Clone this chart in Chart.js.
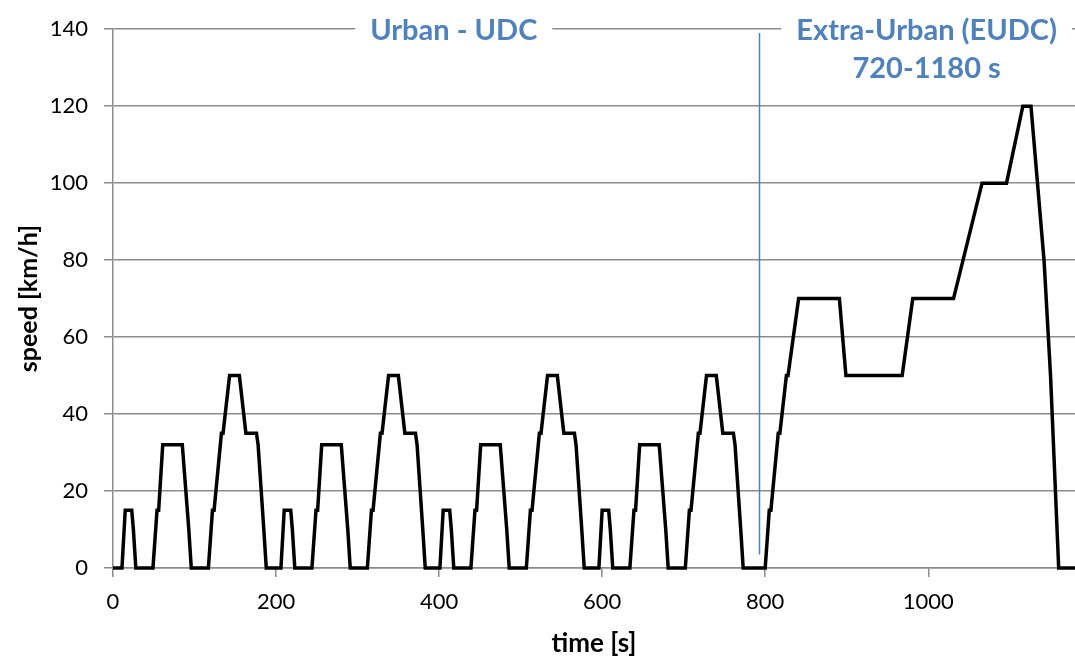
<!DOCTYPE html>
<html>
<head>
<meta charset="utf-8">
<script src="https://cdn.jsdelivr.net/npm/chart.js@4/dist/chart.umd.min.js"></script>
<style>
  html, body { margin: 0; padding: 0; background: #fff; }
  #wrap { width: 1075px; height: 657px; }
</style>
</head>
<body>
<div id="wrap"><canvas id="nedc-chart"></canvas></div>
<script>
// NEDC speed trace: 4x ECE-15 urban cycles + EUDC
var timeSec = [
  0, 11, 15, 23, 25, 28, 49, 54, 56, 61, 85, 93, 96, 117, 122, 124, 133, 135, 143, 155, 163, 176, 178, 185, 188,
  195, 206, 210, 218, 220, 223, 244, 249, 251, 256, 280, 288, 291, 312, 317, 319, 328, 330, 338, 350, 358, 371, 373, 380, 383,
  390, 401, 405, 413, 415, 418, 439, 444, 446, 451, 475, 483, 486, 507, 512, 514, 523, 525, 533, 545, 553, 566, 568, 575, 578,
  585, 596, 600, 608, 610, 613, 634, 639, 641, 646, 670, 678, 681, 702, 707, 709, 718, 720, 728, 740, 748, 761, 763, 770, 773,
  780, 800, 805, 807, 816, 818, 826, 828, 841, 891, 899, 968, 981, 1031, 1066, 1096, 1116, 1126, 1142, 1150, 1160, 1180
];
var speedKmh = [
  0, 0, 15, 15, 10, 0, 0, 15, 15, 32, 32, 10, 0, 0, 15, 15, 35, 35, 50, 50, 35, 35, 32, 10, 0,
  0, 0, 15, 15, 10, 0, 0, 15, 15, 32, 32, 10, 0, 0, 15, 15, 35, 35, 50, 50, 35, 35, 32, 10, 0,
  0, 0, 15, 15, 10, 0, 0, 15, 15, 32, 32, 10, 0, 0, 15, 15, 35, 35, 50, 50, 35, 35, 32, 10, 0,
  0, 0, 15, 15, 10, 0, 0, 15, 15, 32, 32, 10, 0, 0, 15, 15, 35, 35, 50, 50, 35, 35, 32, 10, 0,
  0, 0, 15, 15, 35, 35, 50, 50, 70, 70, 50, 50, 70, 70, 100, 100, 120, 120, 80, 50, 0, 0
];
// divider between urban and extra-urban part
var dividerTime = [793, 793];
var dividerSpeed = [3.5, 139];

var yTicks = [0, 20, 40, 60, 80, 100, 120, 140];
var xTicks = [0, 200, 400, 600, 800, 1000];

var blue = "#4F81BD";
var gridGray = "#8c8c8c";
var fontFamily = "Lato, 'Open Sans', sans-serif";

var trace = timeSec.map(function (t, i) { return { x: t, y: speedKmh[i] }; });
var divider = dividerTime.map(function (t, i) { return { x: t, y: dividerSpeed[i] }; });

// text labels with a white box behind them (like the Excel text boxes)
var labelPlugin = {
  id: "phaseLabels",
  afterDatasetsDraw: function (chart) {
    var ctx = chart.ctx;
    var xs = chart.scales.x;
    var ys = chart.scales.y;
    var labels = [
      { text: "Urban - UDC", t: 418, v: 140 },
      { text: "Extra-Urban (EUDC)", t: 998, v: 140 },
      { text: "720-1180 s", t: 998, v: 130 },
    ];
    ctx.save();
    ctx.font = "bold 29px " + fontFamily;
    ctx.textAlign = "center";
    ctx.textBaseline = "middle";
    labels.forEach(function (l) {
      var px = xs.getPixelForValue(l.t);
      var py = ys.getPixelForValue(l.v);
      var w = ctx.measureText(l.text).width;
      ctx.fillStyle = "#fff";
      ctx.fillRect(px - w / 2 - 15, py - 16, w + 30, 32);
      ctx.fillStyle = blue;
      ctx.fillText(l.text, px, py + 1);
    });
    ctx.restore();
  },
};

var config = {
  type: "line",
  data: {
    datasets: [
      {
        label: "divider",
        data: divider,
        borderColor: blue,
        borderWidth: 1.5,
        pointRadius: 0,
        fill: false,
      },
      {
        label: "speed",
        data: trace,
        borderColor: "#000",
        borderWidth: 3.5,
        pointRadius: 0,
        fill: false,
        tension: 0,
        clip: false,
      },
    ],
  },
  options: {
    responsive: true,
    maintainAspectRatio: false,
    animation: false,
    layout: { padding: { top: 17, right: 0, left: 16, bottom: 0 } },
    plugins: {
      legend: { display: false },
      tooltip: { enabled: false },
    },
    scales: {
      x: {
        type: "linear",
        min: 0,
        max: 1180,
        afterBuildTicks: function (axis) {
          axis.ticks = xTicks.map(function (v) { return { value: v }; });
        },
        afterFit: function (axis) {
          axis.height = 89;
        },
        grid: {
          drawOnChartArea: false,
          drawTicks: true,
          tickLength: 9,
          color: gridGray,
          lineWidth: 1.5,
        },
        border: { color: gridGray, width: 1.5 },
        ticks: {
          color: "#000",
          font: { family: fontFamily, size: 22 },
          padding: 12,
          maxRotation: 0,
          callback: function (v) { return String(v); },
        },
        title: {
          display: true,
          text: "time [s]",
          color: "#000",
          font: { family: fontFamily, size: 26, weight: "bold", lineHeight: 0.7 },
          padding: { top: 0, bottom: 4 },
        },
      },
      y: {
        type: "linear",
        min: 0,
        max: 140,
        afterBuildTicks: function (axis) {
          axis.ticks = yTicks.map(function (v) { return { value: v }; });
        },
        afterFit: function (axis) {
          axis.width = 97;
        },
        grid: {
          drawTicks: true,
          tickLength: 9,
          color: gridGray,
          lineWidth: 1.5,
        },
        border: { color: gridGray, width: 1.5 },
        ticks: {
          color: "#000",
          font: { family: fontFamily, size: 22 },
          padding: 16,
          callback: function (v) { return String(v); },
        },
        title: {
          display: true,
          text: "speed [km/h]",
          color: "#000",
          font: { family: fontFamily, size: 25, weight: "bold", lineHeight: 1 },
          padding: { top: 0, bottom: 0 },
        },
      },
    },
  },
  plugins: [labelPlugin],
};

const ctx = document.getElementById("nedc-chart").getContext("2d");
const nedcChart = new Chart(ctx, config);
</script>
</body>
</html>
